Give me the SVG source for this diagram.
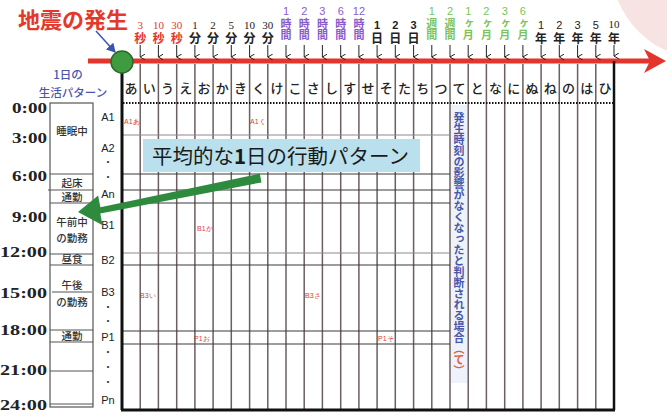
<svg xmlns="http://www.w3.org/2000/svg" width="667" height="416" viewBox="0 0 667 416">
<defs>
<marker id="tk" markerWidth="6" markerHeight="6" refX="3" refY="5" orient="auto-start-reverse" markerUnits="userSpaceOnUse">
<path d="M0,0 L3,5 L6,0" fill="none" stroke="#222" stroke-width="1"/>
</marker>
<marker id="bl" markerWidth="10" markerHeight="10" refX="8" refY="5" orient="auto" markerUnits="userSpaceOnUse">
<path d="M0,0 L9,5 L0,10 Z" fill="#3a55b0"/>
</marker>
</defs>
<style>
.jp{font-family:"Noto Sans CJK JP","Noto Sans",sans-serif}
.ser{font-family:"Liberation Serif","DejaVu Serif",serif}
.san{font-family:"Liberation Sans","DejaVu Sans",sans-serif}
.red{fill:#e3392b}
.pur{fill:#8a5bcc}
.grn{fill:#7cc459}
.blk{fill:#222}
.kana{font-size:13px;font-weight:500;fill:#222;text-anchor:middle}
.tl text{text-anchor:middle}
.tl text.v{writing-mode:vertical-rl;text-anchor:start;font-family:"Noto Sans CJK JP","Noto Sans",sans-serif;font-weight:700}
.num{font-size:11px}
.kj{font-size:12px}
.kh{font-size:11px}
.vl{stroke:#6b5f5f;stroke-width:1.5}
.hl{stroke:#3a3a3a;stroke-width:1.2}
.hl2{stroke:#8a8a8a;stroke-width:1}
.bx{stroke:#555;stroke-width:1.2}
.tick{stroke:#222;stroke-width:1;marker-end:url(#tk)}
.time{font-family:"Liberation Serif",serif;font-weight:700;font-size:15px;fill:#222;text-anchor:end}
.act{font-size:10.5px;font-weight:500;fill:#333;text-anchor:middle}
.row{font-family:"Liberation Sans",sans-serif;font-size:11px;fill:#222;text-anchor:middle}
.dot{font-size:10px;fill:#333;text-anchor:middle}
.sm{font-family:"Liberation Sans",sans-serif;font-size:7px;fill:#d84040}
</style>
<rect width="667" height="416" fill="#fff"/>
<circle cx="705" cy="-35" r="94" fill="#f8e3e3"/>

<g id="title">
<text x="18" y="28" class="jp red" font-size="22" font-weight="700">地震の発生</text>
<line x1="96" y1="31" x2="115" y2="52" stroke="#3a55b0" stroke-width="1.5" marker-end="url(#bl)"/>
</g>

<g id="timeline">
<line x1="88" y1="61" x2="650" y2="61" stroke="#e3352b" stroke-width="5"/>
<polygon points="644,49 666,61 644,73 650,61" fill="#e3352b"/>
</g>

<g id="ticks">
<line class="tick" x1="140.2" y1="45" x2="140.2" y2="57"/>
<line class="tick" x1="158.4" y1="45" x2="158.4" y2="57"/>
<line class="tick" x1="176.7" y1="45" x2="176.7" y2="57"/>
<line class="tick" x1="194.9" y1="45" x2="194.9" y2="57"/>
<line class="tick" x1="213.1" y1="45" x2="213.1" y2="57"/>
<line class="tick" x1="231.3" y1="45" x2="231.3" y2="57"/>
<line class="tick" x1="249.6" y1="45" x2="249.6" y2="57"/>
<line class="tick" x1="267.8" y1="45" x2="267.8" y2="57"/>
<line class="tick" x1="286.0" y1="45" x2="286.0" y2="57"/>
<line class="tick" x1="304.2" y1="45" x2="304.2" y2="57"/>
<line class="tick" x1="322.4" y1="45" x2="322.4" y2="57"/>
<line class="tick" x1="340.7" y1="45" x2="340.7" y2="57"/>
<line class="tick" x1="358.9" y1="45" x2="358.9" y2="57"/>
<line class="tick" x1="377.1" y1="45" x2="377.1" y2="57"/>
<line class="tick" x1="395.3" y1="45" x2="395.3" y2="57"/>
<line class="tick" x1="413.6" y1="45" x2="413.6" y2="57"/>
<line class="tick" x1="431.8" y1="45" x2="431.8" y2="57"/>
<line class="tick" x1="450.0" y1="45" x2="450.0" y2="57"/>
<line class="tick" x1="468.2" y1="45" x2="468.2" y2="57"/>
<line class="tick" x1="486.4" y1="45" x2="486.4" y2="57"/>
<line class="tick" x1="504.7" y1="45" x2="504.7" y2="57"/>
<line class="tick" x1="522.9" y1="45" x2="522.9" y2="57"/>
<line class="tick" x1="541.1" y1="45" x2="541.1" y2="57"/>
<line class="tick" x1="559.3" y1="45" x2="559.3" y2="57"/>
<line class="tick" x1="577.6" y1="45" x2="577.6" y2="57"/>
<line class="tick" x1="595.8" y1="45" x2="595.8" y2="57"/>
<line class="tick" x1="614.0" y1="45" x2="614.0" y2="56"/>
</g>

<g id="tick-labels" class="tl">
<text x="140.2" y="29" class="ser num red">3</text><text x="140.2" y="32" class="v kj red">秒</text>
<text x="158.4" y="29" class="ser num red">10</text><text x="158.4" y="32" class="v kj red">秒</text>
<text x="176.7" y="29" class="ser num red">30</text><text x="176.7" y="32" class="v kj red">秒</text>
<text x="194.9" y="29" class="ser num blk">1</text><text x="194.9" y="32" class="v kj blk">分</text>
<text x="213.1" y="29" class="ser num blk">2</text><text x="213.1" y="32" class="v kj blk">分</text>
<text x="231.3" y="29" class="ser num blk">5</text><text x="231.3" y="32" class="v kj blk">分</text>
<text x="249.6" y="29" class="ser num blk">10</text><text x="249.6" y="32" class="v kj blk">分</text>
<text x="267.8" y="29" class="ser num blk">30</text><text x="267.8" y="32" class="v kj blk">分</text>
<text x="286.0" y="15" class="san num pur">1</text><text x="286.0" y="18" class="v kh pur">時間</text>
<text x="304.2" y="15" class="san num pur">2</text><text x="304.2" y="18" class="v kh pur">時間</text>
<text x="322.4" y="15" class="san num pur">3</text><text x="322.4" y="18" class="v kh pur">時間</text>
<text x="340.7" y="15" class="san num pur">6</text><text x="340.7" y="18" class="v kh pur">時間</text>
<text x="358.9" y="15" class="san num pur">12</text><text x="358.9" y="18" class="v kh pur">時間</text>
<text x="377.1" y="29" class="san num blk" font-weight="700">1</text><text x="377.1" y="32" class="v kj blk">日</text>
<text x="395.3" y="29" class="san num blk" font-weight="700">2</text><text x="395.3" y="32" class="v kj blk">日</text>
<text x="413.6" y="29" class="san num blk" font-weight="700">3</text><text x="413.6" y="32" class="v kj blk">日</text>
<text x="431.8" y="15" class="san num grn">1</text><text x="431.8" y="18" class="v kh grn">週間</text>
<text x="450.0" y="15" class="san num grn">2</text><text x="450.0" y="18" class="v kh grn">週間</text>
<text x="468.2" y="15" class="san num grn">1</text><text x="468.2" y="18" class="v kh grn">ヶ月</text>
<text x="486.4" y="15" class="san num grn">2</text><text x="486.4" y="18" class="v kh grn">ヶ月</text>
<text x="504.7" y="15" class="san num grn">3</text><text x="504.7" y="18" class="v kh grn">ヶ月</text>
<text x="522.9" y="15" class="san num grn">6</text><text x="522.9" y="18" class="v kh grn">ヶ月</text>
<text x="541.1" y="29" class="san num blk">1</text><text x="541.1" y="32" class="v kj blk">年</text>
<text x="559.3" y="29" class="san num blk">2</text><text x="559.3" y="32" class="v kj blk">年</text>
<text x="577.6" y="29" class="san num blk">3</text><text x="577.6" y="32" class="v kj blk">年</text>
<text x="595.8" y="29" class="san num blk">5</text><text x="595.8" y="32" class="v kj blk">年</text>
<text x="614.0" y="28" class="ser num blk">10</text><text x="614.0" y="32" class="v kj blk">年</text>
</g>

<g id="grid">
<rect x="451" y="105" width="16" height="278" fill="#eef3fb"/>
<line class="vl" x1="140.2" y1="64" x2="140.2" y2="409"/>
<line class="vl" x1="158.4" y1="64" x2="158.4" y2="409"/>
<line class="vl" x1="176.7" y1="64" x2="176.7" y2="409"/>
<line class="vl" x1="194.9" y1="64" x2="194.9" y2="409"/>
<line class="vl" x1="213.1" y1="64" x2="213.1" y2="409"/>
<line class="vl" x1="231.3" y1="64" x2="231.3" y2="409"/>
<line class="vl" x1="249.6" y1="64" x2="249.6" y2="409"/>
<line class="vl" x1="267.8" y1="64" x2="267.8" y2="409"/>
<line class="vl" x1="286.0" y1="64" x2="286.0" y2="409"/>
<line class="vl" x1="304.2" y1="64" x2="304.2" y2="409"/>
<line class="vl" x1="322.4" y1="64" x2="322.4" y2="409"/>
<line class="vl" x1="340.7" y1="64" x2="340.7" y2="409"/>
<line class="vl" x1="358.9" y1="64" x2="358.9" y2="409"/>
<line class="vl" x1="377.1" y1="64" x2="377.1" y2="409"/>
<line class="vl" x1="395.3" y1="64" x2="395.3" y2="409"/>
<line class="vl" x1="413.6" y1="64" x2="413.6" y2="409"/>
<line class="vl" x1="431.8" y1="64" x2="431.8" y2="409"/>
<line class="vl" x1="450.0" y1="64" x2="450.0" y2="409"/>
<line class="vl" x1="468.2" y1="64" x2="468.2" y2="409"/>
<line class="vl" x1="486.4" y1="64" x2="486.4" y2="409"/>
<line class="vl" x1="504.7" y1="64" x2="504.7" y2="409"/>
<line class="vl" x1="522.9" y1="64" x2="522.9" y2="409"/>
<line class="vl" x1="541.1" y1="64" x2="541.1" y2="409"/>
<line class="vl" x1="559.3" y1="64" x2="559.3" y2="409"/>
<line class="vl" x1="577.6" y1="64" x2="577.6" y2="409"/>
<line class="vl" x1="595.8" y1="64" x2="595.8" y2="409"/>
<line class="hl2" x1="123" y1="135" x2="450" y2="135"/>
<line class="hl" x1="123" y1="174" x2="450" y2="174"/>
<line class="hl" x1="123" y1="190" x2="450" y2="190"/>
<line class="hl" x1="123" y1="203" x2="450" y2="203"/>
<line class="hl2" x1="123" y1="253" x2="450" y2="253"/>
<line class="hl" x1="123" y1="265" x2="450" y2="265"/>
<line class="hl" x1="123" y1="331" x2="450" y2="331"/>
<line class="hl" x1="123" y1="344" x2="450" y2="344"/>
<line x1="123" y1="103" x2="614" y2="103" stroke="#111" stroke-width="2" stroke-dasharray="1.5 1.5"/>
<line x1="122" y1="70" x2="122" y2="410" stroke="#111" stroke-width="3"/>
<line x1="614" y1="61" x2="614" y2="410" stroke="#111" stroke-width="2.5"/>
<line x1="121" y1="410" x2="615" y2="410" stroke="#111" stroke-width="3"/>
</g>

<g id="start-point">
<circle cx="122" cy="62" r="11" fill="#3f9b3f" stroke="#2a6a2a" stroke-width="1.5"/>
</g>

<g id="column-labels" class="jp">
<text x="131.1" y="93" class="kana">あ</text>
<text x="149.3" y="93" class="kana">い</text>
<text x="167.6" y="93" class="kana">う</text>
<text x="185.8" y="93" class="kana">え</text>
<text x="204.0" y="93" class="kana">お</text>
<text x="222.2" y="93" class="kana">か</text>
<text x="240.4" y="93" class="kana">き</text>
<text x="258.7" y="93" class="kana">く</text>
<text x="276.9" y="93" class="kana">け</text>
<text x="295.1" y="93" class="kana">こ</text>
<text x="313.3" y="93" class="kana">さ</text>
<text x="331.6" y="93" class="kana">し</text>
<text x="349.8" y="93" class="kana">す</text>
<text x="368.0" y="93" class="kana">せ</text>
<text x="386.2" y="93" class="kana">そ</text>
<text x="404.4" y="93" class="kana">た</text>
<text x="422.7" y="93" class="kana">ち</text>
<text x="440.9" y="93" class="kana">つ</text>
<text x="459.1" y="93" class="kana">て</text>
<text x="477.3" y="93" class="kana">と</text>
<text x="495.6" y="93" class="kana">な</text>
<text x="513.8" y="93" class="kana">に</text>
<text x="532.0" y="93" class="kana">ぬ</text>
<text x="550.2" y="93" class="kana">ね</text>
<text x="568.4" y="93" class="kana">の</text>
<text x="586.7" y="93" class="kana">は</text>
<text x="604.9" y="93" class="kana">ひ</text>
</g>

<g id="vertical-note">
<text x="459" y="112" class="jp" font-size="11" font-weight="700" fill="#4656a8" style="writing-mode:vertical-rl">発生時刻の影響がなくなったと判断される場合<tspan fill="#e0603a">（て）</tspan></text>
</g>

<g id="cell-labels" class="sm">
<text x="124" y="124">A1あ</text>
<text x="250" y="124">A1く</text>
<text x="197" y="231">B1か</text>
<text x="140" y="298">B3い</text>
<text x="305" y="298">B3さ</text>
<text x="194" y="341">P1お</text>
<text x="378" y="341">P1そ</text>
</g>

<g id="day-pattern-header" class="jp" fill="#4a55b0" text-anchor="middle" font-weight="500">
<text x="68" y="79" font-size="11.5">1日の</text>
<text x="73" y="97" font-size="11.5">生活パターン</text>
</g>

<g id="time-axis">
<text x="47" y="113" class="time" textLength="35" lengthAdjust="spacingAndGlyphs">0:00</text>
<text x="47" y="143" class="time" textLength="35" lengthAdjust="spacingAndGlyphs">3:00</text>
<text x="47" y="181" class="time" textLength="35" lengthAdjust="spacingAndGlyphs">6:00</text>
<text x="47" y="222" class="time" textLength="35" lengthAdjust="spacingAndGlyphs">9:00</text>
<text x="47" y="257" class="time" textLength="47" lengthAdjust="spacingAndGlyphs">12:00</text>
<text x="47" y="298" class="time" textLength="47" lengthAdjust="spacingAndGlyphs">15:00</text>
<text x="47" y="335" class="time" textLength="47" lengthAdjust="spacingAndGlyphs">18:00</text>
<text x="47" y="375" class="time" textLength="47" lengthAdjust="spacingAndGlyphs">21:00</text>
<text x="47" y="410" class="time" textLength="47" lengthAdjust="spacingAndGlyphs">24:00</text>
</g>

<g id="schedule-box">
<rect x="50" y="103" width="43" height="304" fill="#fff" class="bx"/>
<line class="bx" x1="50" y1="174" x2="93" y2="174"/>
<line class="bx" x1="48" y1="190" x2="93" y2="190"/>
<line class="bx" x1="50" y1="203" x2="93" y2="203"/>
<line class="bx" x1="50" y1="254" x2="93" y2="254"/>
<line class="bx" x1="50" y1="265" x2="93" y2="265"/>
<line class="bx" x1="52" y1="292" x2="92" y2="292" stroke-width="0.8"/>
<line class="bx" x1="50" y1="330" x2="93" y2="330"/>
<line class="bx" x1="50" y1="342" x2="93" y2="342"/>
<line class="bx" x1="50" y1="371" x2="93" y2="371"/>
<line class="bx" x1="50" y1="404" x2="93" y2="404"/>
<g class="jp">
<text x="72" y="135" class="act">睡眠中</text>
<text x="72" y="187" class="act">起床</text>
<text x="72" y="201" class="act">通勤</text>
<text x="72" y="226" class="act">午前中</text>
<text x="72" y="242" class="act">の勤務</text>
<text x="72" y="263" class="act">昼食</text>
<text x="72" y="289" class="act">午後</text>
<text x="72" y="306" class="act">の勤務</text>
<text x="72" y="340" class="act">通勤</text>
</g>
</g>

<g id="row-labels">
<text x="108" y="121" class="row">A1</text>
<text x="108" y="152" class="row">A2</text>
<text x="108" y="166" class="jp dot">・</text>
<text x="108" y="181" class="jp dot">・</text>
<text x="108" y="198" class="row">An</text>
<text x="108" y="229" class="row">B1</text>
<text x="108" y="264" class="row">B2</text>
<text x="108" y="296" class="row">B3</text>
<text x="108" y="311" class="jp dot">・</text>
<text x="108" y="325" class="jp dot">・</text>
<text x="108" y="341" class="row">P1</text>
<text x="108" y="356" class="jp dot">・</text>
<text x="108" y="371" class="jp dot">・</text>
<text x="108" y="386" class="jp dot">・</text>
<text x="108" y="404" class="row">Pn</text>
</g>

<g id="callout">
<rect x="143" y="139" width="277" height="33" fill="#b9e0ec"/>
<text x="152" y="164" class="jp" font-size="20.5" fill="#1a1a1a">平均的な<tspan font-weight="700">1</tspan>日の行動パターン</text>
</g>

<g id="connectors">
<polygon points="259.8,173.6 261.5,182.4 100.3,213.4 102.6,225.2 78,212 98.1,195.4 100.4,207.2" fill="#2e8b3e"/>
</g>
</svg>
